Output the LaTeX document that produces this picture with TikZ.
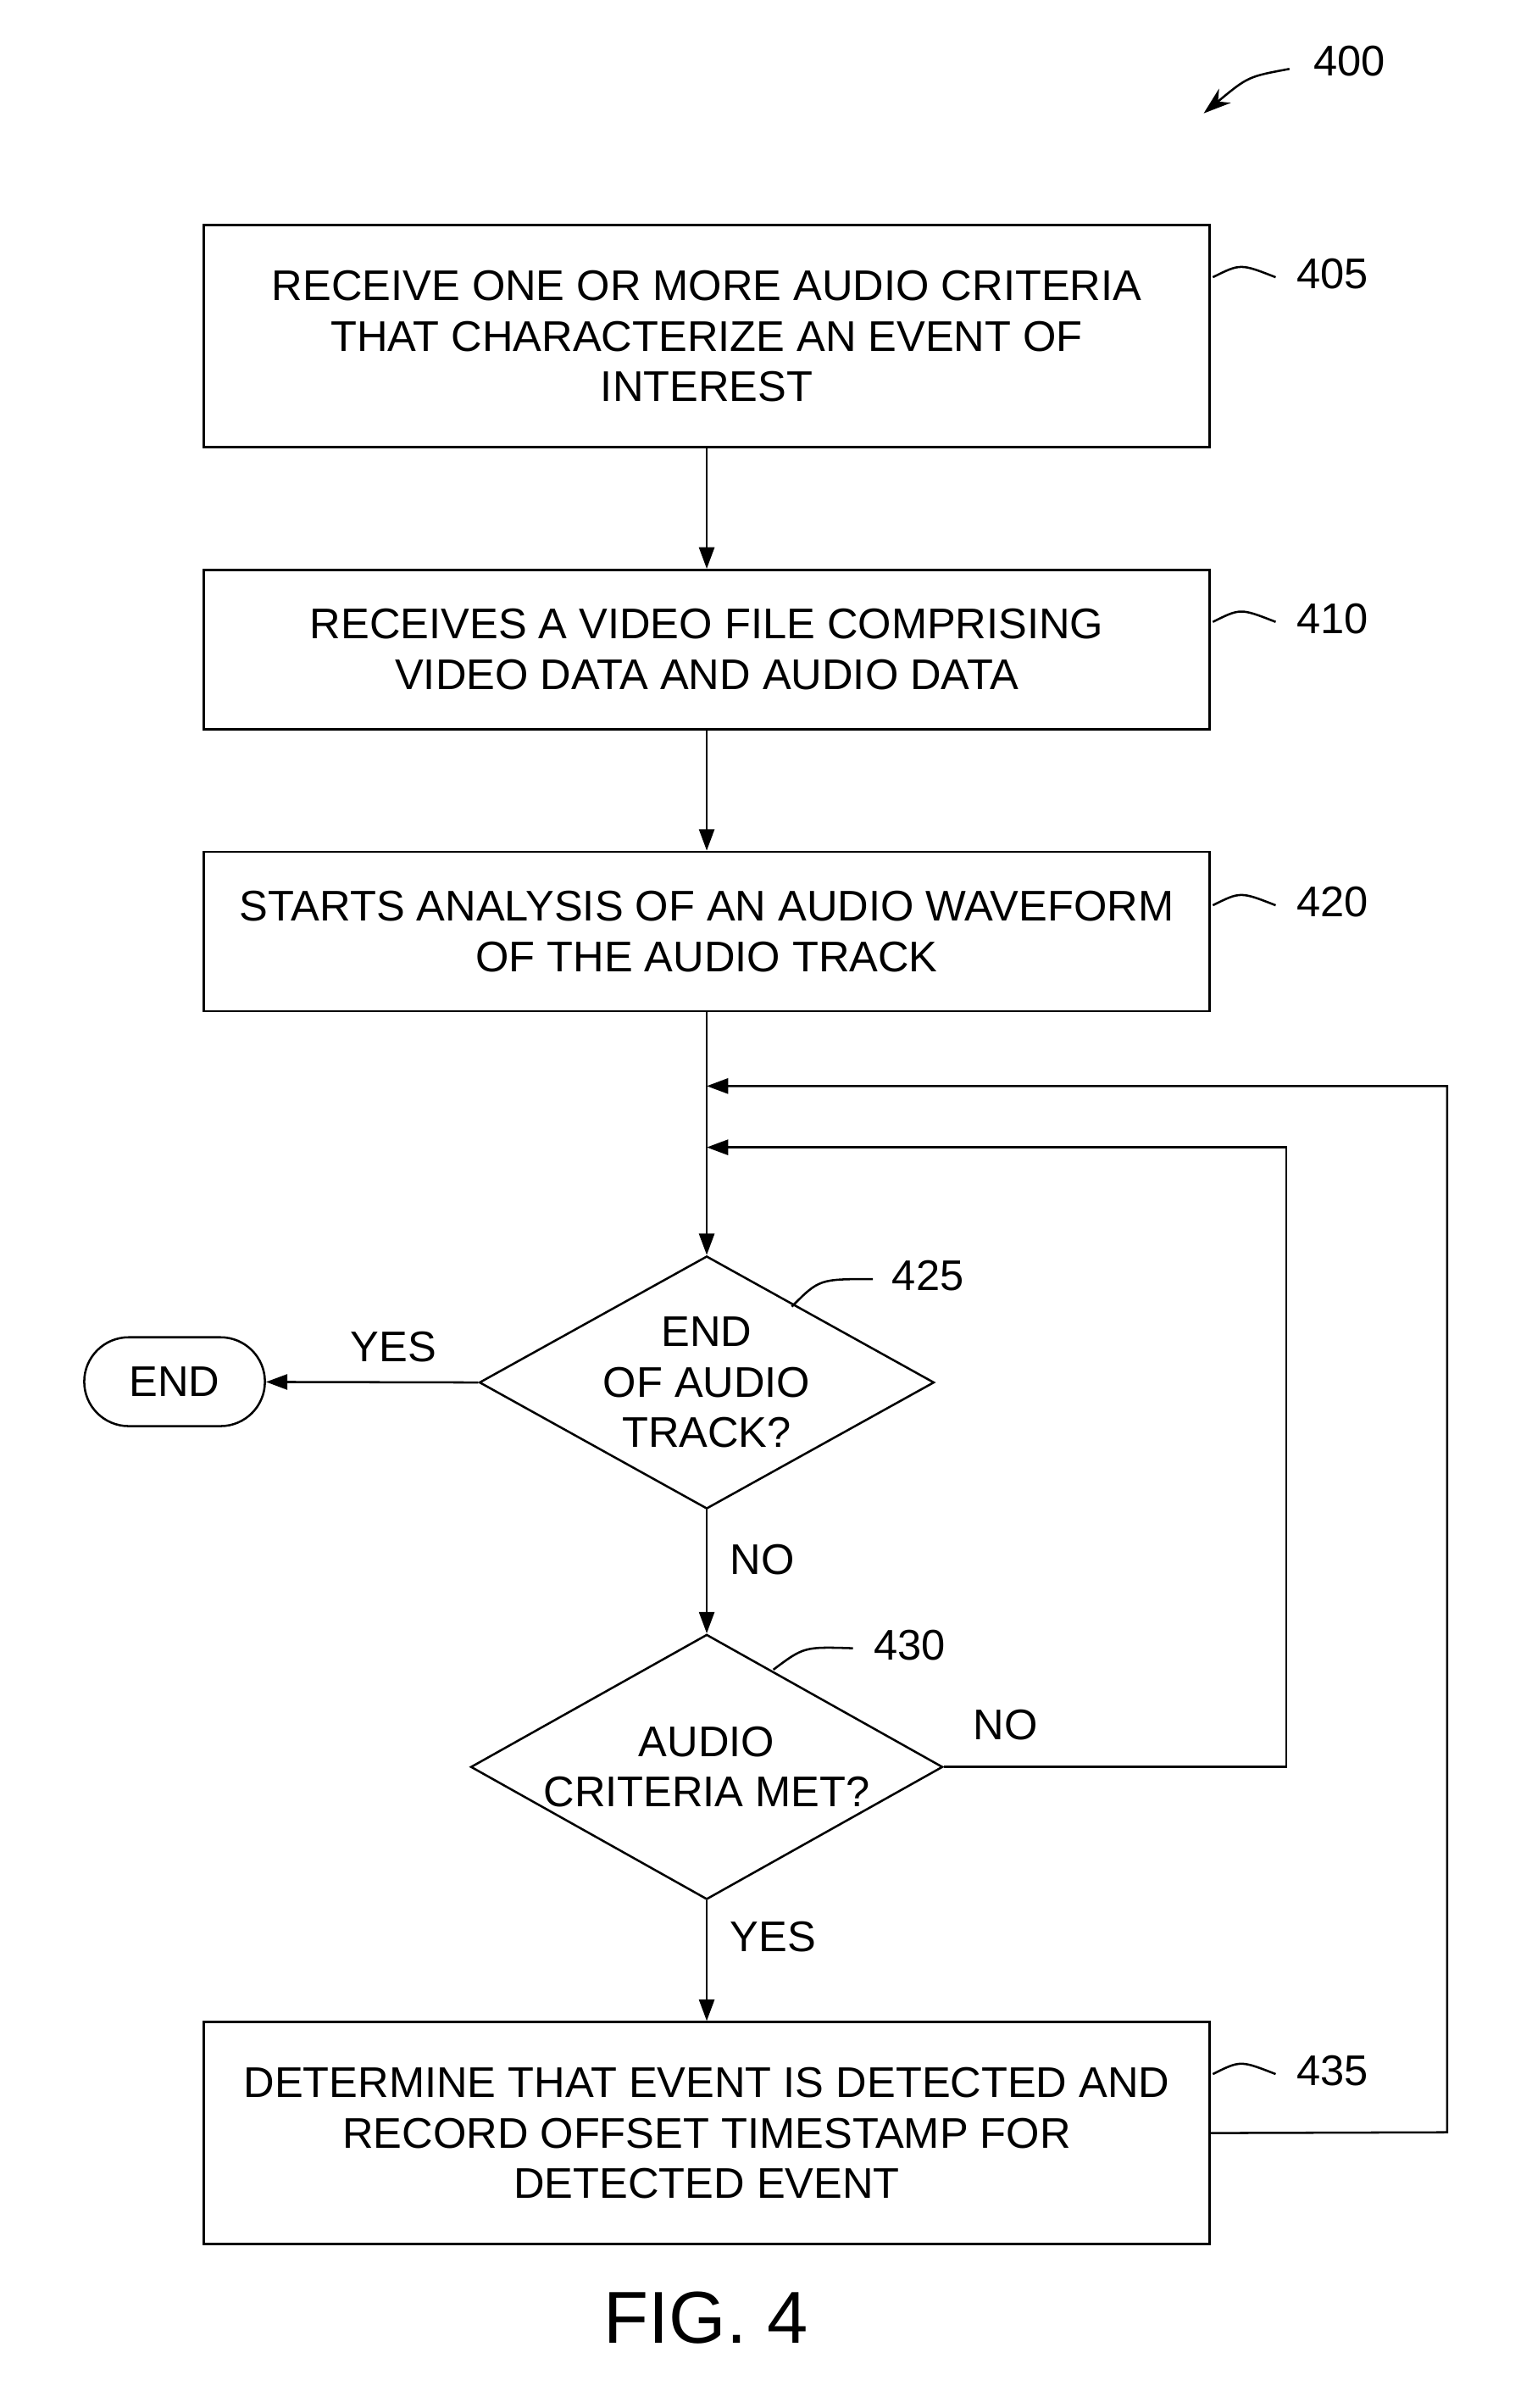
\documentclass[tikz,border=0pt]{standalone}
\usepackage{fontspec}
\setmainfont{Liberation Sans}
\usetikzlibrary{shapes.geometric,arrows.meta}
\begin{document}
\begin{tikzpicture}[x=0.5pt,y=-0.5pt,line width=0.7pt,
 txt/.style={font=\fontsize{14}{16.5}\selectfont,align=center},
 boxx/.style={draw,txt,minimum width=328.5pt,inner sep=0pt},
 dia/.style={draw,diamond,txt,aspect=1.8,minimum width=148.5pt,minimum height=82.5pt,inner sep=0pt},
 arr/.style={-{Triangle[length=7pt,width=5pt]}},
 lab/.style={font=\fontsize{14}{16}\selectfont}]
\useasboundingbox (0,0) rectangle (1000,1572);
\node[boxx,minimum height=72.5pt] (b405) at (461.5,219.5) {RECEIVE ONE OR MORE AUDIO CRITERIA\\THAT CHARACTERIZE AN EVENT OF\\INTEREST};
\node[boxx,minimum height=52pt] (b410) at (461.5,424) {RECEIVES A VIDEO FILE COMPRISING\\VIDEO DATA AND AUDIO DATA};
\node[boxx,minimum height=52pt] (b420) at (461.5,608) {STARTS ANALYSIS OF AN AUDIO WAVEFORM\\OF THE AUDIO TRACK};
\node[dia,minimum height=82.5pt] (d425) at (461.5,902.5) {END\\OF AUDIO\\TRACK?};
\node[dia,minimum height=86.5pt] (d430) at (461.5,1153.5) {AUDIO\\CRITERIA MET?};
\node[boxx,minimum height=72.5pt] (b435) at (461.5,1392.5) {DETERMINE THAT EVENT IS DETECTED AND\\RECORD OFFSET TIMESTAMP FOR\\DETECTED EVENT};
\node[draw,rounded corners=14.5pt,txt,minimum width=59pt,minimum height=29pt] (end) at (114,902) {END};
\draw[arr] (b405) -- (b410);
\draw[arr] (b410) -- (b420);
\draw[arr] (b420) -- (d425);
\draw[arr] (d425) -- node[lab,right,pos=0.4,xshift=4pt]{NO} (d430);
\draw[arr] (d430) -- node[lab,right,pos=0.3,xshift=4pt]{YES} (b435);
\draw[arr] (d425.west) -- node[lab,above,pos=0.4,yshift=3pt]{YES} (end);
\coordinate (j1) at (461.5,709);
\coordinate (j2) at (461.5,749);
\draw[arr] (d430.east) -- node[lab,above,pos=0.18,yshift=5pt]{NO} (840,1153.5) -- (840,749) -- (j2);
\draw[arr] (b435.east) -- (945,1392) -- (945,709) -- (j1);
\node[lab] (n405) at (870,179) {405};
\draw (792,181) .. controls (810,172) .. (833,181);
\node[lab] (n410) at (870,404) {410};
\draw (792,406) .. controls (810,397) .. (833,406);
\node[lab] (n420) at (870,589) {420};
\draw (792,591) .. controls (810,582) .. (833,591);
\node[lab] (n435) at (870,1352) {435};
\draw (792,1354) .. controls (810,1345) .. (833,1354);
\node[lab] (n425) at (606,833) {425};
\draw (517,853) .. controls (535,835) .. (570,835);
\node[lab] (n430) at (594,1074) {430};
\draw (505,1090) .. controls (525,1075) .. (557,1076);
\node[lab] (n400) at (881,40) {400};
\draw[-{Stealth[length=9pt,width=6pt]}] (842,45) .. controls (815,50) .. (786,74);
\node[font=\fontsize{24}{28}\selectfont] (fig) at (461,1513) {FIG. 4};
\end{tikzpicture}
\end{document}
